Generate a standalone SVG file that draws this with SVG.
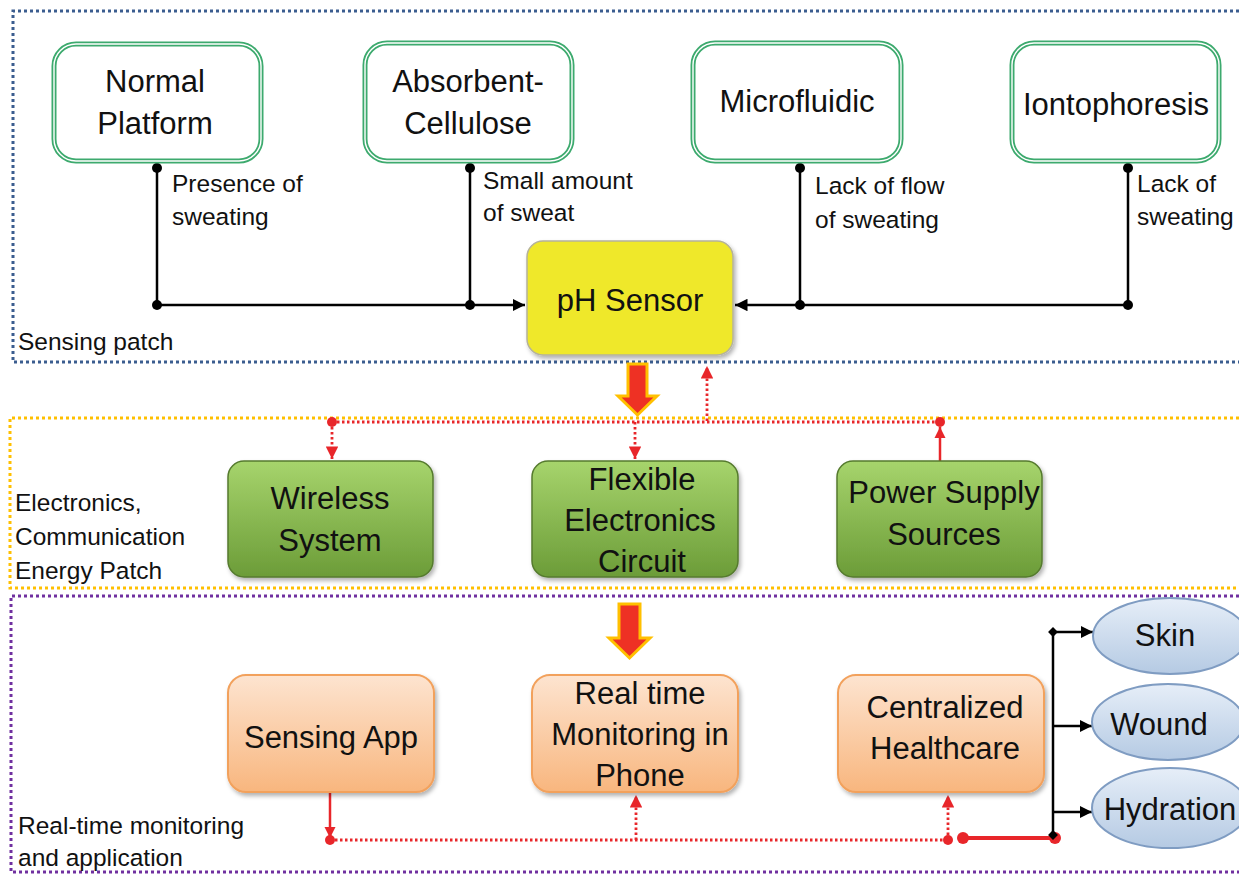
<svg xmlns="http://www.w3.org/2000/svg" width="1239" height="874" viewBox="0 0 1239 874">
<defs>
<style>
.big{font-family:"Liberation Sans",Arial,sans-serif;font-size:31px;fill:#111;text-anchor:middle}
.sm{font-family:"Liberation Sans",Arial,sans-serif;font-size:24.5px;fill:#111}
.blk{stroke:#000;stroke-width:2.5;fill:none}
.rdot{stroke:#E8262A;stroke-width:2.8;fill:none;stroke-dasharray:2.5 2.5}
.rsol{stroke:#E8262A;stroke-width:2.5;fill:none}
.gout{fill:#fff;stroke:#3DAA6E;stroke-width:5}
.gin{fill:none;stroke:#fff;stroke-width:1.4}
.green{fill:url(#gGreen);stroke:#557A2E;stroke-width:1.5}
.orange{fill:url(#gOrange);stroke:#F2A15C;stroke-width:2}
.ell{fill:url(#gBlue);stroke:#7F9CC2;stroke-width:2}
.bigarrow{fill:#EE3124;stroke:#FFC000;stroke-width:3;stroke-linejoin:miter}
</style>
<linearGradient id="gGreen" x1="0" y1="0" x2="0" y2="1"><stop offset="0" stop-color="#A6D46C"/><stop offset="1" stop-color="#6C9C38"/></linearGradient>
<linearGradient id="gOrange" x1="0" y1="0" x2="0" y2="1"><stop offset="0" stop-color="#FDE4D0"/><stop offset="1" stop-color="#F8B67E"/></linearGradient>
<linearGradient id="gBlue" x1="0" y1="0" x2="0" y2="1"><stop offset="0" stop-color="#E6EEF8"/><stop offset="1" stop-color="#B5CAE3"/></linearGradient>
<filter id="sh" x="-10%" y="-10%" width="125%" height="130%"><feDropShadow dx="2" dy="3" stdDeviation="2" flood-color="#000" flood-opacity="0.3"/></filter>
<marker id="aB" viewBox="0 0 10 10" refX="10" refY="5" markerWidth="5" markerHeight="5" orient="auto" markerUnits="strokeWidth"><path d="M0,0 L10,5 L0,10 z" fill="#000"/></marker>
<marker id="aR" viewBox="0 0 10 10" refX="10" refY="5" markerWidth="4.5" markerHeight="4.5" orient="auto" markerUnits="strokeWidth"><path d="M0,0 L10,5 L0,10 z" fill="#E8262A"/></marker>
</defs>
<rect width="1239" height="874" fill="#fff"/>

<g id="regions">
<path d="M1245,11 H13 V362 H1245" fill="none" stroke="#3B5D8F" stroke-width="3" stroke-dasharray="3 3"/>
<path d="M1245,418 H10 V588 H1245" fill="none" stroke="#FFC000" stroke-width="3" stroke-dasharray="3 3"/>
<path d="M1245,596 H11 V872 H1245" fill="none" stroke="#7030A0" stroke-width="3" stroke-dasharray="3 3"/>
<text class="sm" x="18" y="350">Sensing patch</text>
<text class="sm" x="15" y="511">Electronics,</text>
<text class="sm" x="15" y="545">Communication</text>
<text class="sm" x="15" y="579">Energy Patch</text>
<text class="sm" x="18" y="834">Real-time monitoring</text>
<text class="sm" x="18" y="866">and application</text>
</g>

<g id="connectors">
<path class="blk" d="M157,168 V305 H525" marker-end="url(#aB)"/>
<path class="blk" d="M470,168 V305"/>
<path class="blk" d="M1128,168 V305 H735" marker-end="url(#aB)"/>
<path class="blk" d="M800,168 V305"/>
<g fill="#000">
<circle cx="157" cy="168" r="5"/><circle cx="157" cy="305" r="5"/>
<circle cx="470" cy="168" r="5"/><circle cx="470" cy="305" r="5"/>
<circle cx="800" cy="168" r="5"/><circle cx="800" cy="305" r="5"/>
<circle cx="1128" cy="168" r="5"/><circle cx="1128" cy="305" r="5"/>
</g>
<text class="sm" x="172" y="192">Presence of</text>
<text class="sm" x="172" y="225">sweating</text>
<text class="sm" x="483" y="189">Small amount</text>
<text class="sm" x="483" y="221">of sweat</text>
<text class="sm" x="815" y="194">Lack of flow</text>
<text class="sm" x="815" y="228">of sweating</text>
<text class="sm" x="1137" y="192">Lack of</text>
<text class="sm" x="1137" y="225">sweating</text>

<polygon class="bigarrow" points="628,364 647,364 647,396 657,396 637.5,415 618,396 628,396"/>
<polygon class="bigarrow" points="619,604 640,604 640,638 650,638 629.5,658 609,638 619,638"/>

<path class="rdot" d="M332,422 H940"/>
<path class="rdot" d="M707,421 V366" marker-end="url(#aR)"/>
<path class="rdot" d="M332,422 V459" marker-end="url(#aR)"/>
<path class="rdot" d="M635,422 V459" marker-end="url(#aR)"/>
<path class="rsol" d="M940,461 V427" marker-end="url(#aR)"/>
<circle cx="332" cy="422" r="5" fill="#E8262A"/>
<circle cx="940" cy="422" r="5" fill="#E8262A"/>

<path class="rsol" d="M330,793 V838" marker-end="url(#aR)"/>
<circle cx="330" cy="840" r="5" fill="#E8262A"/>
<path class="rdot" d="M330,840 H948"/>
<path class="rdot" d="M636,840 V795" marker-end="url(#aR)"/>
<path class="rdot" d="M948,840 V795" marker-end="url(#aR)"/>
<circle cx="948" cy="840" r="5" fill="#E8262A"/>
<path d="M963,838 H1055" stroke="#E8262A" stroke-width="4" fill="none"/>
<circle cx="963" cy="838" r="6" fill="#E8262A"/>
<circle cx="1055" cy="838" r="6" fill="#E8262A"/>

<path class="blk" d="M1053,632 V835"/>
<path class="blk" d="M1053,632 H1093" marker-end="url(#aB)"/>
<path class="blk" d="M1053,726 H1092" marker-end="url(#aB)"/>
<path class="blk" d="M1053,812 H1092" marker-end="url(#aB)"/>
<rect x="1049.5" y="628.5" width="7" height="7" transform="rotate(45 1053 632)" fill="#000"/>
<rect x="1049.5" y="831.5" width="7" height="7" transform="rotate(45 1053 835)" fill="#000"/>
</g>

<g id="normal-platform">
<rect class="gout" x="54" y="44" width="207" height="117" rx="22"/>
<rect class="gin" x="54" y="44" width="207" height="117" rx="22"/>
<text class="big" x="155" y="92">Normal</text>
<text class="big" x="155" y="134">Platform</text>
</g>
<g id="absorbent-cellulose">
<rect class="gout" x="365" y="43" width="207" height="118" rx="22"/>
<rect class="gin" x="365" y="43" width="207" height="118" rx="22"/>
<text class="big" x="468" y="92">Absorbent-</text>
<text class="big" x="468" y="134">Cellulose</text>
</g>
<g id="microfluidic">
<rect class="gout" x="693" y="43" width="208" height="118" rx="22"/>
<rect class="gin" x="693" y="43" width="208" height="118" rx="22"/>
<text class="big" x="797" y="112">Microfluidic</text>
</g>
<g id="iontophoresis">
<rect class="gout" x="1012" y="43" width="207" height="118" rx="22"/>
<rect class="gin" x="1012" y="43" width="207" height="118" rx="22"/>
<text class="big" x="1116" y="115">Iontophoresis</text>
</g>

<g id="ph-sensor">
<rect x="527" y="241" width="206" height="114" rx="16" fill="#EFE82A" stroke="#B5B29A" stroke-width="1.5" filter="url(#sh)"/>
<text class="big" x="630" y="311">pH Sensor</text>
</g>

<g id="wireless-system">
<rect class="green" x="228" y="461" width="205" height="116" rx="16" filter="url(#sh)"/>
<text class="big" x="330" y="509">Wireless</text>
<text class="big" x="330" y="551">System</text>
</g>
<g id="flexible-electronics-circuit">
<rect class="green" x="532" y="461" width="206" height="116" rx="16" filter="url(#sh)"/>
<text class="big" x="642" y="490">Flexible</text>
<text class="big" x="640" y="531">Electronics</text>
<text class="big" x="642" y="572">Circuit</text>
</g>
<g id="power-supply-sources">
<rect class="green" x="837" y="461" width="205" height="116" rx="16" filter="url(#sh)"/>
<text class="big" x="944" y="503">Power Supply</text>
<text class="big" x="944" y="545">Sources</text>
</g>

<g id="sensing-app">
<rect class="orange" x="228" y="675" width="206" height="117" rx="18" filter="url(#sh)"/>
<text class="big" x="331" y="748">Sensing App</text>
</g>
<g id="real-time-monitoring">
<rect class="orange" x="532" y="675" width="206" height="117" rx="18" filter="url(#sh)"/>
<text class="big" x="640" y="704">Real time</text>
<text class="big" x="640" y="745">Monitoring in</text>
<text class="big" x="640" y="786">Phone</text>
</g>
<g id="centralized-healthcare">
<rect class="orange" x="838" y="675" width="206" height="117" rx="18" filter="url(#sh)"/>
<text class="big" x="945" y="718">Centralized</text>
<text class="big" x="945" y="759">Healthcare</text>
</g>

<g id="skin">
<ellipse class="ell" cx="1170" cy="636" rx="77" ry="38"/>
<text class="big" x="1165" y="646">Skin</text>
</g>
<g id="wound">
<ellipse class="ell" cx="1168" cy="722" rx="76" ry="38"/>
<text class="big" x="1159" y="735">Wound</text>
</g>
<g id="hydration">
<ellipse class="ell" cx="1170" cy="808" rx="78" ry="40"/>
<text class="big" x="1170" y="820">Hydration</text>
</g>
</svg>
